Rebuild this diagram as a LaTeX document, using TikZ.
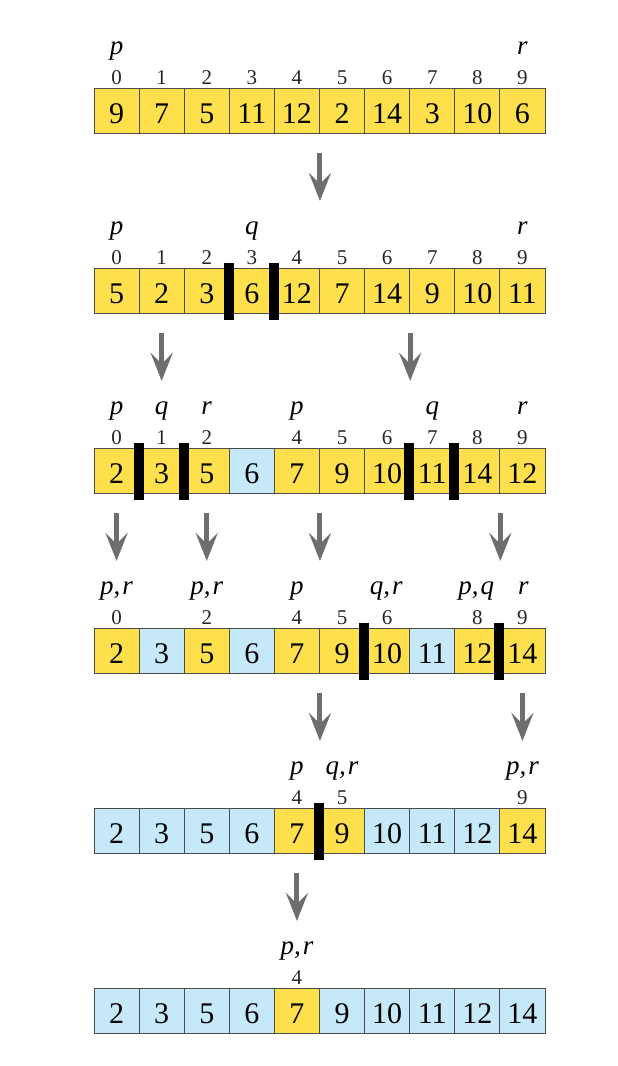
\documentclass[tikz,border=0pt]{standalone}
\usepackage{fontspec}
\setmainfont{Liberation Serif}
\usetikzlibrary{arrows.meta,calc}
\definecolor{cy}{HTML}{FDE04B}
\definecolor{cb}{HTML}{C6E9FA}
\definecolor{ar}{HTML}{6E6E6E}
\tikzset{
 cell/.style={draw=black!70, line width=0.9pt, minimum width=45.1pt, minimum height=45pt, inner sep=0pt, text height=24pt, text depth=0pt, font=\fontsize{30}{30}\selectfont},
 celly/.style={cell, fill=cy},
 cellb/.style={cell, fill=cb},
 idx/.style={anchor=base, inner sep=0pt, font=\fontsize{21}{21}\selectfont, text=black!85},
 lab/.style={anchor=base, inner sep=0pt, font=\fontsize{27}{27}\selectfont\itshape},
 down/.style={draw=ar, line width=5pt, -{Stealth[length=28pt, width=22pt, inset=11pt]}},
}
\newcommand{\cx}[1]{116.55+45.1*#1}
\newcommand{\cm}{,\kern2pt}
\begin{document}
\begin{tikzpicture}[x=1pt,y=-1pt]
\useasboundingbox (0,0) rectangle (618,1066);
% ---------- row 1 ----------
\foreach \v/\c [count=\i from 0] in {9/y,7/y,5/y,11/y,12/y,2/y,14/y,3/y,10/y,6/y}
  \node[cell\c] (r1c\i) at ({\cx{\i}},111) {\v};
\foreach \i in {0,...,9}
  \node[idx] (i1c\i) at ({\cx{\i}},84) {\i};
\node[lab] (l1a) at ({\cx{0}},54) {p};
\node[lab] (l1b) at ({\cx{9}},54) {r};
% ---------- row 2 ----------
\foreach \v/\c [count=\i from 0] in {5/y,2/y,3/y,6/y,12/y,7/y,14/y,9/y,10/y,11/y}
  \node[cell\c] (r2c\i) at ({\cx{\i}},291) {\v};
\foreach \i in {0,...,9}
  \node[idx] (i2c\i) at ({\cx{\i}},264) {\i};
\node[lab] (l2a) at ({\cx{0}},234) {p};
\node[lab] (l2b) at ({\cx{3}},234) {q};
\node[lab] (l2c) at ({\cx{9}},234) {r};
% ---------- row 3 ----------
\foreach \v/\c [count=\i from 0] in {2/y,3/y,5/y,6/b,7/y,9/y,10/y,11/y,14/y,12/y}
  \node[cell\c] (r3c\i) at ({\cx{\i}},471) {\v};
\foreach \i in {0,1,2,4,5,6,7,8,9}
  \node[idx] (i3c\i) at ({\cx{\i}},444) {\i};
\node[lab] (l3a) at ({\cx{0}},414) {p};
\node[lab] (l3b) at ({\cx{1}},414) {q};
\node[lab] (l3c) at ({\cx{2}},414) {r};
\node[lab] (l3d) at ({\cx{4}},414) {p};
\node[lab] (l3e) at ({\cx{7}},414) {q};
\node[lab] (l3f) at ({\cx{9}},414) {r};
% ---------- row 4 ----------
\foreach \v/\c [count=\i from 0] in {2/y,3/b,5/y,6/b,7/y,9/y,10/y,11/b,12/y,14/y}
  \node[cell\c] (r4c\i) at ({\cx{\i}},651) {\v};
\foreach \i in {0,2,4,5,6,8,9}
  \node[idx] (i4c\i) at ({\cx{\i}},624) {\i};
\node[lab] (l4a) at ({\cx{0}},594) {p\cm r};
\node[lab] (l4b) at ({\cx{2}},594) {p\cm r};
\node[lab] (l4c) at ({\cx{4}},594) {p};
\node[lab] (l4d) at ({\cx{6}-1},594) {q\cm r};
\node[lab] (l4e) at ({\cx{8}-1},594) {p\cm q};
\node[lab] (l4f) at ({\cx{9}+1},594) {r};
% ---------- row 5 ----------
\foreach \v/\c [count=\i from 0] in {2/b,3/b,5/b,6/b,7/y,9/y,10/b,11/b,12/b,14/y}
  \node[cell\c] (r5c\i) at ({\cx{\i}},831) {\v};
\foreach \i in {4,5,9}
  \node[idx] (i5c\i) at ({\cx{\i}},804) {\i};
\node[lab] (l5a) at ({\cx{4}},774) {p};
\node[lab] (l5b) at ({\cx{5}},774) {q\cm r};
\node[lab] (l5c) at ({\cx{9}},774) {p\cm r};
% ---------- row 6 ----------
\foreach \v/\c [count=\i from 0] in {2/b,3/b,5/b,6/b,7/y,9/b,10/b,11/b,12/b,14/b}
  \node[cell\c] (r6c\i) at ({\cx{\i}},1011) {\v};
\node[idx] (i6c4) at ({\cx{4}},984) {4};
\node[lab] (l6a) at ({\cx{4}},954) {p\cm r};
% ---------- partition bars ----------
\foreach \r/\c in {2/3,2/4,3/1,3/2,3/7,3/8,4/6,4/9,5/5}
  \fill[black] ($(r\r c\c.north west)+(-5,-5)$) rectangle ($(r\r c\c.south west)+(5,6)$);
% ---------- arrows ----------
\coordinate (a1s) at ($(r1c4.south east)+(0,19)$);
\coordinate (a1e) at ($(r1c4.south east)+(0,67)$);
\coordinate (a2s) at ($(r2c1.south)+(0,19)$);
\coordinate (a2e) at ($(r2c1.south)+(0,67)$);
\coordinate (a3s) at ($(r2c6.south east)+(0,19)$);
\coordinate (a3e) at ($(r2c6.south east)+(0,67)$);
\coordinate (a4s) at ($(r3c0.south)+(0,19)$);
\coordinate (a4e) at ($(r3c0.south)+(0,67)$);
\coordinate (a5s) at ($(r3c2.south)+(0,19)$);
\coordinate (a5e) at ($(r3c2.south)+(0,67)$);
\coordinate (a6s) at ($(r3c4.south east)+(0,19)$);
\coordinate (a6e) at ($(r3c4.south east)+(0,67)$);
\coordinate (a7s) at ($(r3c8.south east)+(0,19)$);
\coordinate (a7e) at ($(r3c8.south east)+(0,67)$);
\coordinate (a8s) at ($(r4c4.south east)+(0,19)$);
\coordinate (a8e) at ($(r4c4.south east)+(0,67)$);
\coordinate (a9s) at ($(r4c9.south)+(0,19)$);
\coordinate (a9e) at ($(r4c9.south)+(0,67)$);
\coordinate (a10s) at ($(r5c4.south)+(0,19)$);
\coordinate (a10e) at ($(r5c4.south)+(0,67)$);
\foreach \k in {1,...,10}
  \draw[down] (a\k s) -- (a\k e);
\end{tikzpicture}
\end{document}
